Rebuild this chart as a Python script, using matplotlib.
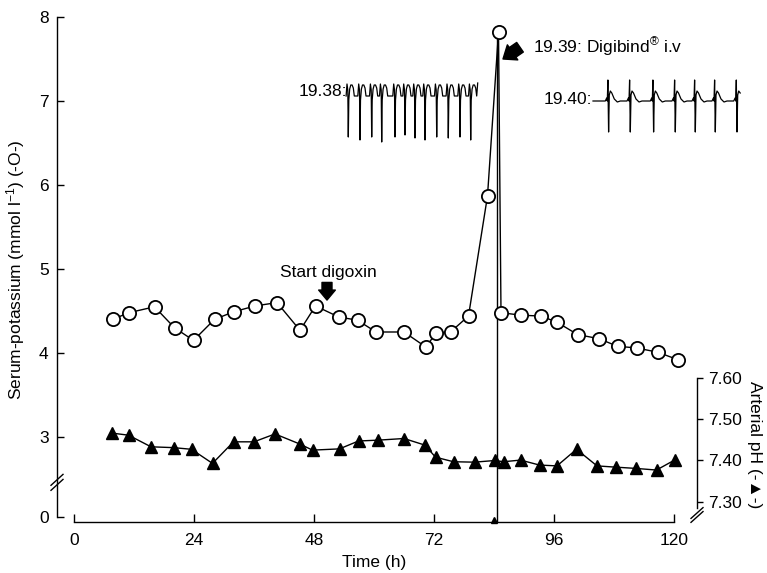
import matplotlib
matplotlib.use('Agg')
import matplotlib.pyplot as plt
import numpy as np

plt.rcParams['font.family'] = ['Liberation Sans', 'DejaVu Sans']
plt.rcParams['mathtext.fontset'] = 'custom'
plt.rcParams['mathtext.rm'] = 'Liberation Sans'
plt.rcParams['mathtext.it'] = 'Liberation Sans:italic'
plt.rcParams['axes.linewidth'] = 1.0

# serum potassium (mmol/l), open circles
k_time = [7.7, 11.0, 16.1, 20.1, 23.9, 28.1, 31.9, 36.2, 40.6, 45.2, 48.3,
          52.9, 56.7, 60.4, 66.0, 70.4, 72.4, 75.3, 78.9, 82.7, 84.9, 85.4,
          89.4, 93.3, 96.5, 100.7, 105.0, 108.7, 112.5, 116.7, 120.8]
k_val = [4.40, 4.48, 4.55, 4.30, 4.15, 4.40, 4.49, 4.56, 4.60, 4.27, 4.56,
         4.43, 4.39, 4.25, 4.25, 4.07, 4.24, 4.25, 4.44, 5.87, 7.82, 4.48,
         4.45, 4.44, 4.37, 4.22, 4.17, 4.08, 4.06, 4.01, 3.92]

# arterial pH, filled triangles
ph_time = [7.6, 10.9, 15.4, 19.9, 23.5, 27.7, 31.9, 36.0, 40.2, 45.1, 47.7,
           53.1, 56.9, 60.8, 66.0, 70.2, 72.3, 75.9, 80.1, 84.2, 85.9, 89.3,
           93.1, 96.6, 100.5, 104.6, 108.3, 112.3, 116.5, 120.1]
ph_val = [7.466, 7.461, 7.433, 7.431, 7.427, 7.393, 7.445, 7.445, 7.464, 7.440,
          7.425, 7.428, 7.447, 7.449, 7.453, 7.437, 7.408, 7.397, 7.396, 7.400,
          7.397, 7.401, 7.389, 7.387, 7.427, 7.387, 7.384, 7.381, 7.377, 7.401]

x_ticks = [0, 24, 48, 72, 96, 120]
k_ticks = [3, 4, 5, 6, 7, 8]
ph_ticks = [7.30, 7.40, 7.50, 7.60]
t_digibind = 84.6

# ECG strips (inset drawings): spike positions and depths
ecg_fast_beats = [348.3, 360, 371.7, 381.7, 395, 405, 415, 425, 436.7, 448.3, 460, 470.7]
ecg_fast_depth = [137, 140, 137, 142, 137, 135, 138, 140, 137, 138, 137, 140]
ecg_slow_beats = [608.3, 630, 653.3, 675, 695, 715, 736.7]

W, H = 767, 573
FS = 12.5
K_ZERO = 2.048   # where the broken axis draws "0"


def px_box(x0, y0, x1, y1):
    return [x0 / W, 1 - y1 / H, (x1 - x0) / W, (y1 - y0) / H]


fig = plt.figure(figsize=(W / 100, H / 100), dpi=100)
ax = fig.add_axes(px_box(57, 17, 697, 522))
ax.set_xlim(-3.4, 124.6)
ax.set_ylim(1.988, 8.0)
ax.patch.set_alpha(0)

for s in ['top', 'right']:
    ax.spines[s].set_visible(False)
ax.spines['left'].set_bounds(K_ZERO, 8)
ax.spines['bottom'].set_bounds(0, 120)

ax.set_xticks(x_ticks)
ax.set_xticklabels([str(t) for t in x_ticks])
ax.set_yticks([K_ZERO] + k_ticks)
ax.set_yticklabels(['0'] + [str(t) for t in k_ticks])
ax.tick_params(axis='x', direction='in', length=6, width=1, pad=8, labelsize=FS)
ax.tick_params(axis='y', direction='in', length=5, width=1, pad=6, labelsize=FS)

ax_ph = ax.twinx()
ax_ph.set_ylim(7.2518, 8.4687)
for s in ['top', 'left', 'bottom']:
    ax_ph.spines[s].set_visible(False)
ax_ph.spines['right'].set_bounds(7.285, 7.60)
ax_ph.set_yticks(ph_ticks)
ax_ph.set_yticklabels(['%.2f' % t for t in ph_ticks])
ax_ph.tick_params(axis='y', direction='out', length=4, width=1, pad=4, labelsize=FS)

# data
ax.vlines(t_digibind, 1.988, 7.75, color='k', lw=1.0, zorder=2)
ax.plot(t_digibind - 0.6, 2.01, marker='^', ms=5, color='k', clip_on=False)
ax.plot(k_time, k_val, '-o', color='k', mfc='white', mec='k', ms=9.5, mew=1.3,
        lw=1.0, zorder=3, clip_on=False)
ax_ph.plot(ph_time, ph_val, '-^', color='k', ms=9, lw=1.0, zorder=3)

# axis breaks
for off in [-0.03, 0.03]:
    ax.plot([-3.4 - 1.2, -3.4 + 1.2], [2.46 + off - 0.065, 2.46 + off + 0.065],
            color='k', lw=1.0, clip_on=False)
    ax_ph.plot([124.6 - 1.2, 124.6 + 1.2],
               [7.2687 + off / 6.3 - 0.013, 7.2687 + off / 6.3 + 0.013],
               color='k', lw=1.0, clip_on=False)

# annotations
ax.text(50.8, 4.964, 'Start digoxin', ha='center', va='center', fontsize=FS)
ax.annotate('', xy=(50.6, 4.63), xytext=(50.6, 4.84),
            arrowprops=dict(arrowstyle='simple,head_length=0.6,head_width=1.0,tail_width=0.6',
                            fc='k', ec='k', mutation_scale=12, shrinkA=0, shrinkB=0))
ax.text(91.8, 7.643, r'19.39: Digibind$^{\circledR}$ i.v', ha='left', va='center',
        fontsize=FS)
ax.annotate('', xy=(85.8, 7.50), xytext=(89.2, 7.64),
            arrowprops=dict(arrowstyle='simple,head_length=0.7,head_width=1.1,tail_width=0.7',
                            fc='k', ec='k', mutation_scale=12, shrinkA=0, shrinkB=0))

# axis labels
ax.text(-0.064, 0.5, 'Serum-potassium (mmol l$^{-1}$) (-O-)', transform=ax.transAxes,
        rotation=90, ha='center', va='center', fontsize=FS)
ax.text(1.0906, 0.1525, 'Arterial pH (-\u25B2-)', transform=ax.transAxes,
        rotation=270, ha='center', va='center', fontsize=FS)
ax.text(0.495, -0.081, 'Time (h)', transform=ax.transAxes,
        ha='center', va='center', fontsize=FS)

# ECG insets drawn in pixel space
ov = fig.add_axes([0, 0, 1, 1])
ov.set_xlim(0, W)
ov.set_ylim(H, 0)
ov.axis('off')
ov.patch.set_alpha(0)

xs, ys = [], []
for b, d in zip(ecg_fast_beats, ecg_fast_depth):
    shape = [(-2.2, 96), (-1.3, 84), (-0.5, 90), (0, d), (0.5, 100),
             (1.4, 89), (2.5, 85), (3.8, 85), (5.0, 88), (6.0, 96)]
    for dx, y in shape:
        xs.append(b + dx)
        ys.append(y)
xs += [ecg_fast_beats[-1] + 7.0]
ys += [83]
ov.plot(xs, ys, color='k', lw=0.9)
ov.text(347, 91, '19.38:', ha='right', va='center', fontsize=FS)

xs, ys = [593], [101]
for b in ecg_slow_beats:
    shape = [(-3, 101), (-1.6, 98), (-1.0, 101), (-0.4, 80), (0.3, 132),
             (1.0, 95), (2.0, 91), (3.5, 93), (6, 99), (9, 102), (12, 101)]
    for dx, y in shape:
        if b + dx <= 742:
            xs.append(b + dx)
            ys.append(y)
ov.plot(xs, ys, color='k', lw=0.9)
ov.text(592, 100, '19.40:', ha='right', va='center', fontsize=FS)

fig.savefig('out.png', dpi=100)
